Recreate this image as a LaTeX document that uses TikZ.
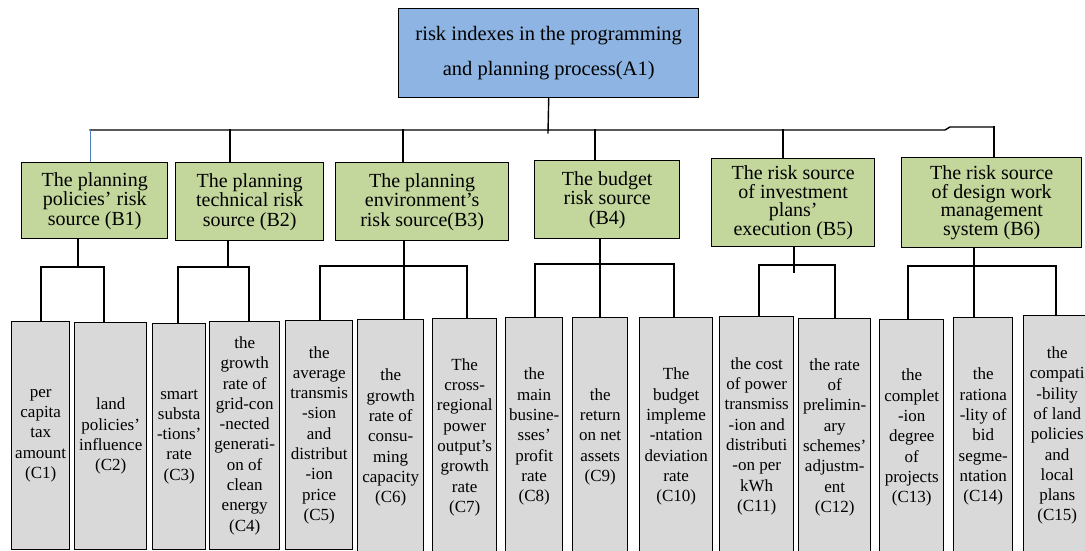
\documentclass[tikz,border=0pt]{standalone}
\usepackage{fontspec}
\setmainfont{Liberation Serif}
\definecolor{aBlue}{HTML}{8DB4E2}
\definecolor{bGreen}{HTML}{C3D69B}
\definecolor{cGrey}{HTML}{D9D9D9}
\definecolor{lineBlue}{HTML}{4F81BD}
\begin{document}
\begin{tikzpicture}[x=1pt,y=-1pt,
  box/.style={draw=black, line width=1.4pt, anchor=north west, align=center, inner sep=1pt},
  riskA/.style={box, fill=aBlue, font=\fontsize{20.5}{35}\selectfont},
  riskB/.style={box, fill=bGreen, font=\fontsize{20}{19.5}\selectfont},
  riskC/.style={box, fill=cGrey, font=\fontsize{17}{20.3}\selectfont},
  conn/.style={line width=1.4pt, draw=black, line cap=rect},
]
\useasboundingbox (0,0) rectangle (1085,551);

% top node
\node[riskA, minimum width=300pt, minimum height=89pt] (A1) at (398,8)
  {risk indexes in the programming\\and planning process(A1)};

% B nodes
\node[riskB, minimum width=146pt, minimum height=76pt] (B1) at (21,162)
  {The planning\\policies’ risk\\source (B1)};
\node[riskB, minimum width=148pt, minimum height=78pt] (B2) at (175,162)
  {The planning\\technical risk\\source (B2)};
\node[riskB, minimum width=173pt, minimum height=78pt] (B3) at (335,162)
  {The planning\\environment’s\\risk source(B3)};
\node[riskB, minimum width=145pt, minimum height=78pt] (B4) at (534,160)
  {The budget\\risk source\\(B4)};
\node[riskB, minimum width=163pt, minimum height=88pt, font=\fontsize{20}{18.5}\selectfont] (B5) at (711,158)
  {The risk source\\of investment\\plans’\\execution (B5)};
\node[riskB, minimum width=180pt, minimum height=90pt, font=\fontsize{20}{18.5}\selectfont] (B6) at (901,157)
  {The risk source\\of design work\\management\\system (B6)};

% C nodes
\node[riskC, minimum width=58pt, minimum height=228pt] (C1) at (11,321)
  {per\\capita\\tax\\amount\\(C1)};
\node[riskC, minimum width=72pt, minimum height=227pt] (C2) at (74,322)
  {land\\policies’\\influence\\(C2)};
\node[riskC, minimum width=53pt, minimum height=226pt] (C3) at (152,323)
  {smart\\substa\\-tions’\\rate\\(C3)};
\node[riskC, minimum width=70pt, minimum height=228pt] (C4) at (209,321)
  {the\\growth\\rate of\\grid-con\\-nected\\generati-\\on of\\clean\\energy\\(C4)};
\node[riskC, minimum width=67pt, minimum height=229pt] (C5) at (285,320)
  {the\\average\\transmis\\-sion\\and\\distribut\\-ion\\price\\(C5)};
\node[riskC, minimum width=66pt, minimum height=236pt] (C6) at (357,319)
  {the\\growth\\rate of\\consu-\\ming\\capacity\\(C6)};
\node[riskC, minimum width=64pt, minimum height=237pt] (C7) at (432,318)
  {The\\cross-\\regional\\power\\output’s\\growth\\rate\\(C7)};
\node[riskC, minimum width=57pt, minimum height=238pt] (C8) at (505,317)
  {the\\main\\busine-\\sses’\\profit\\rate\\(C8)};
\node[riskC, minimum width=55pt, minimum height=238pt] (C9) at (572,317)
  {the\\return\\on net\\assets\\(C9)};
\node[riskC, minimum width=73pt, minimum height=238pt] (C10) at (639,317)
  {The\\budget\\impleme\\-ntation\\deviation\\rate\\(C10)};
\node[riskC, minimum width=74pt, minimum height=239pt] (C11) at (719,316)
  {the cost\\of power\\transmiss\\-ion and\\distributi\\-on per\\kWh\\(C11)};
\node[riskC, minimum width=72pt, minimum height=237pt] (C12) at (798,318)
  {the rate\\of\\prelimin-\\ary\\schemes’\\adjustm-\\ent\\(C12)};
\node[riskC, minimum width=64pt, minimum height=236pt] (C13) at (879,319)
  {the\\complet\\-ion\\degree\\of\\projects\\(C13)};
\node[riskC, minimum width=59pt, minimum height=238pt] (C14) at (953,317)
  {the\\rationa\\-lity of\\bid\\segme-\\ntation\\(C14)};
\node[riskC, minimum width=67pt, minimum height=240pt] (C15) at (1023,315)
  {the\\compati\\-bility\\of land\\policies\\and\\local\\plans\\(C15)};

% top bus
\coordinate (t1) at (90,130);
\coordinate (t2) at (230,130);
\coordinate (t3) at (403,130);
\coordinate (t4) at (595,130);
\coordinate (t5) at (783,130);
\coordinate (j1) at (945,130);
\coordinate (j2) at (950,127);
\coordinate (t6) at (994,127);
\coordinate (a1e) at (548,133);
\draw[conn] (A1.south) -- (a1e);
\draw[conn] (t1) -- (j1) -- (j2) -- (t6);
\draw[lineBlue, line width=0.9pt] (t1) -- (t1 |- B1.north);
\draw[conn] (t2) -- (t2 |- B2.north);
\draw[conn] (t3) -- (t3 |- B3.north);
\draw[conn] (t4) -- (t4 |- B4.north);
\draw[conn] (t5) -- (t5 |- B5.north);
\draw[conn] (t6) -- (t6 |- B6.north);

% B1 branch
\coordinate (s1) at (78,267);
\coordinate (l1) at (41,267);
\coordinate (r1) at (104,267);
\draw[conn] (s1 |- B1.south) -- (s1);
\draw[conn] (l1 |- C1.north) -- (l1) -- (r1) -- (r1 |- C2.north);

% B2 branch
\coordinate (s2) at (228,267);
\coordinate (l2) at (178,267);
\coordinate (r2) at (249,267);
\draw[conn] (s2 |- B2.south) -- (s2);
\draw[conn] (l2 |- C3.north) -- (l2) -- (r2) -- (r2 |- C4.north);

% B3 branch
\coordinate (s3) at (404,266);
\coordinate (l3) at (320,266);
\coordinate (r3) at (467,266);
\draw[conn] (s3 |- B3.south) -- (s3 |- C6.north);
\draw[conn] (l3 |- C5.north) -- (l3) -- (r3) -- (r3 |- C7.north);

% B4 branch
\coordinate (s4) at (600,264);
\coordinate (l4) at (535,264);
\coordinate (r4) at (674,264);
\draw[conn] (s4 |- B4.south) -- (s4 |- C9.north);
\draw[conn] (l4 |- C8.north) -- (l4) -- (r4) -- (r4 |- C10.north);

% B5 branch
\coordinate (s5) at (794,272);
\coordinate (l5) at (759,265);
\coordinate (r5) at (835,265);
\draw[conn] (s5 |- B5.south) -- (s5);
\draw[conn] (l5 |- C11.north) -- (l5) -- (r5) -- (r5 |- C12.north);

% B6 branch
\coordinate (s6) at (974,266);
\coordinate (l6) at (908,266);
\coordinate (r6) at (1056,266);
\draw[conn] (s6 |- B6.south) -- (s6 |- C14.north);
\draw[conn] (l6 |- C13.north) -- (l6) -- (r6) -- (r6 |- C15.north);
\end{tikzpicture}
\end{document}
